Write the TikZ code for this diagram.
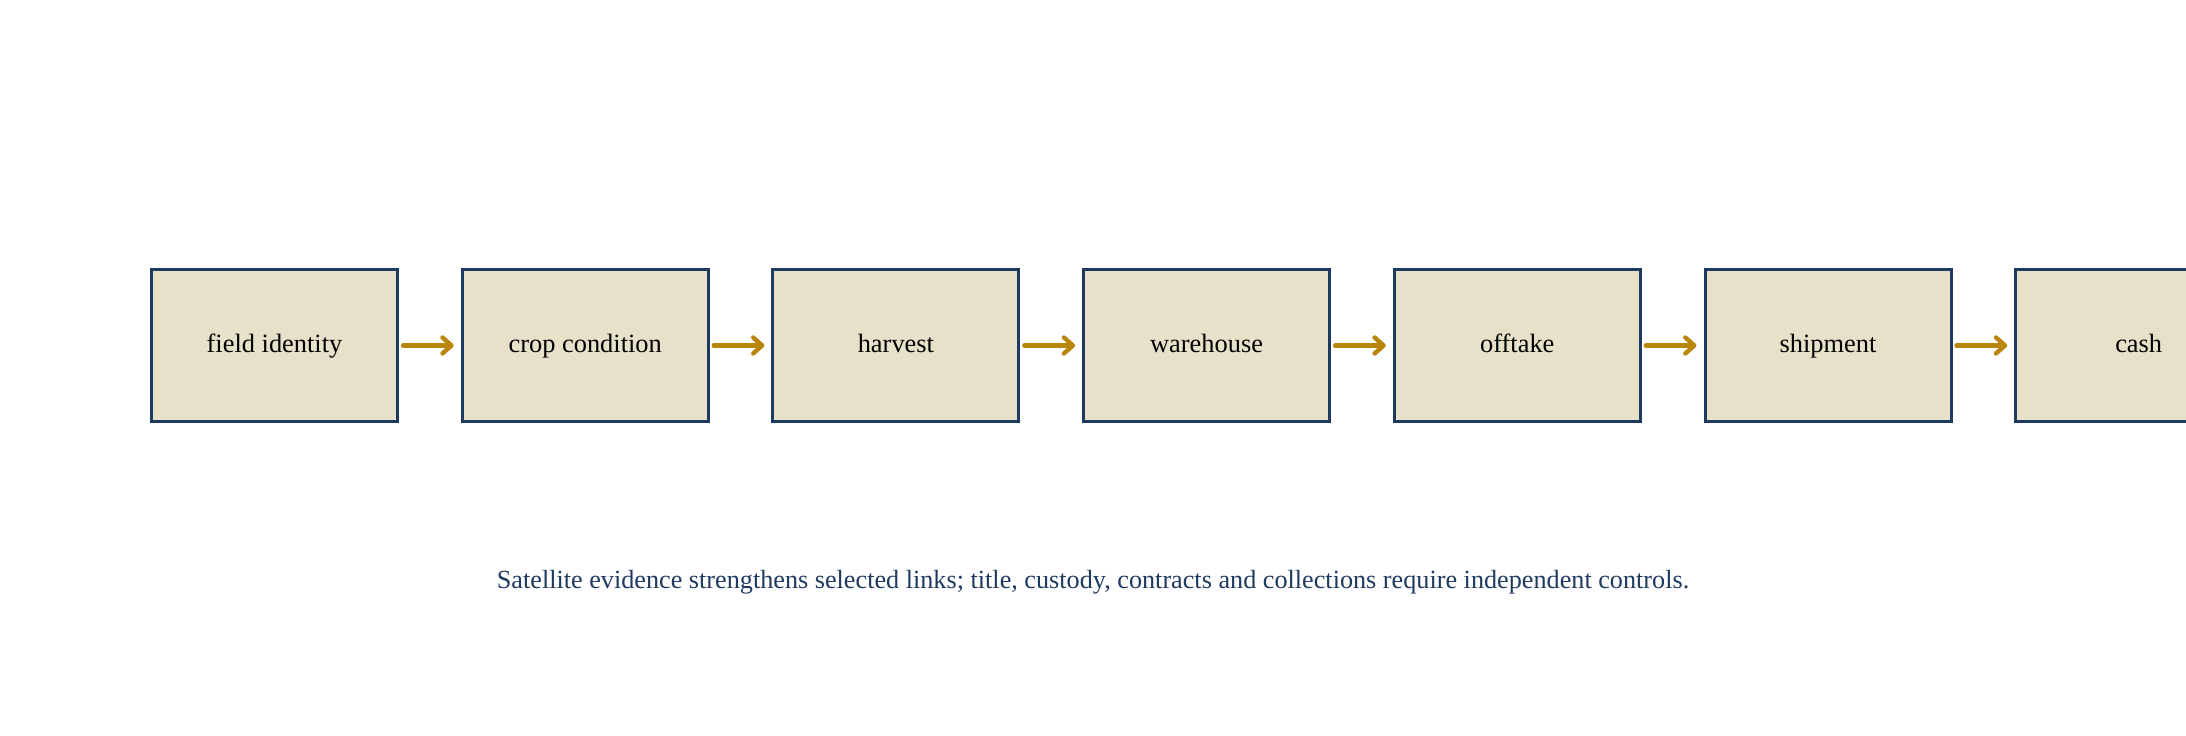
\documentclass[tikz,border=0pt]{standalone}
\usepackage{fontspec}
\setmainfont{Liberation Serif}
\usetikzlibrary{arrows.meta}
\definecolor{navy}{RGB}{31,58,96}
\definecolor{sand}{RGB}{232,225,202}
\definecolor{gold}{RGB}{184,134,11}

\begin{document}
\begin{tikzpicture}[x=0.5pt, y=0.5pt,
	stage/.style={rectangle, draw=navy, fill=sand, line width=1.5pt,
		minimum width=123pt, minimum height=75.5pt, inner sep=0pt,
		text height=0.85em, text depth=0.1em,
		font=\fontsize{13.2}{15.8}\selectfont},
	link/.style={gold, line width=2.2pt, line cap=round,
		-{Straight Barb[length=4.5pt, width=8pt, round]},
		shorten <=2pt, shorten >=3.5pt}]
	\clip (0,0) rectangle (2186,735);
	\foreach \t [count=\i] in {field identity, crop condition, harvest,
		warehouse, offtake, shipment, cash}{
		\node[stage] (s\i) at ({274.5+310.7*(\i-1)}, 389.5) {\t};
	}
	\foreach \i [count=\j from 2] in {1,...,6}{
		\draw[link] (s\i) -- (s\j);
	}
	\node[text=navy, font=\fontsize{13.1}{15.7}\selectfont] (note) at (1093,153)
		{Satellite evidence strengthens selected links; title, custody, contracts and collections require independent controls.};
\end{tikzpicture}
\end{document}
